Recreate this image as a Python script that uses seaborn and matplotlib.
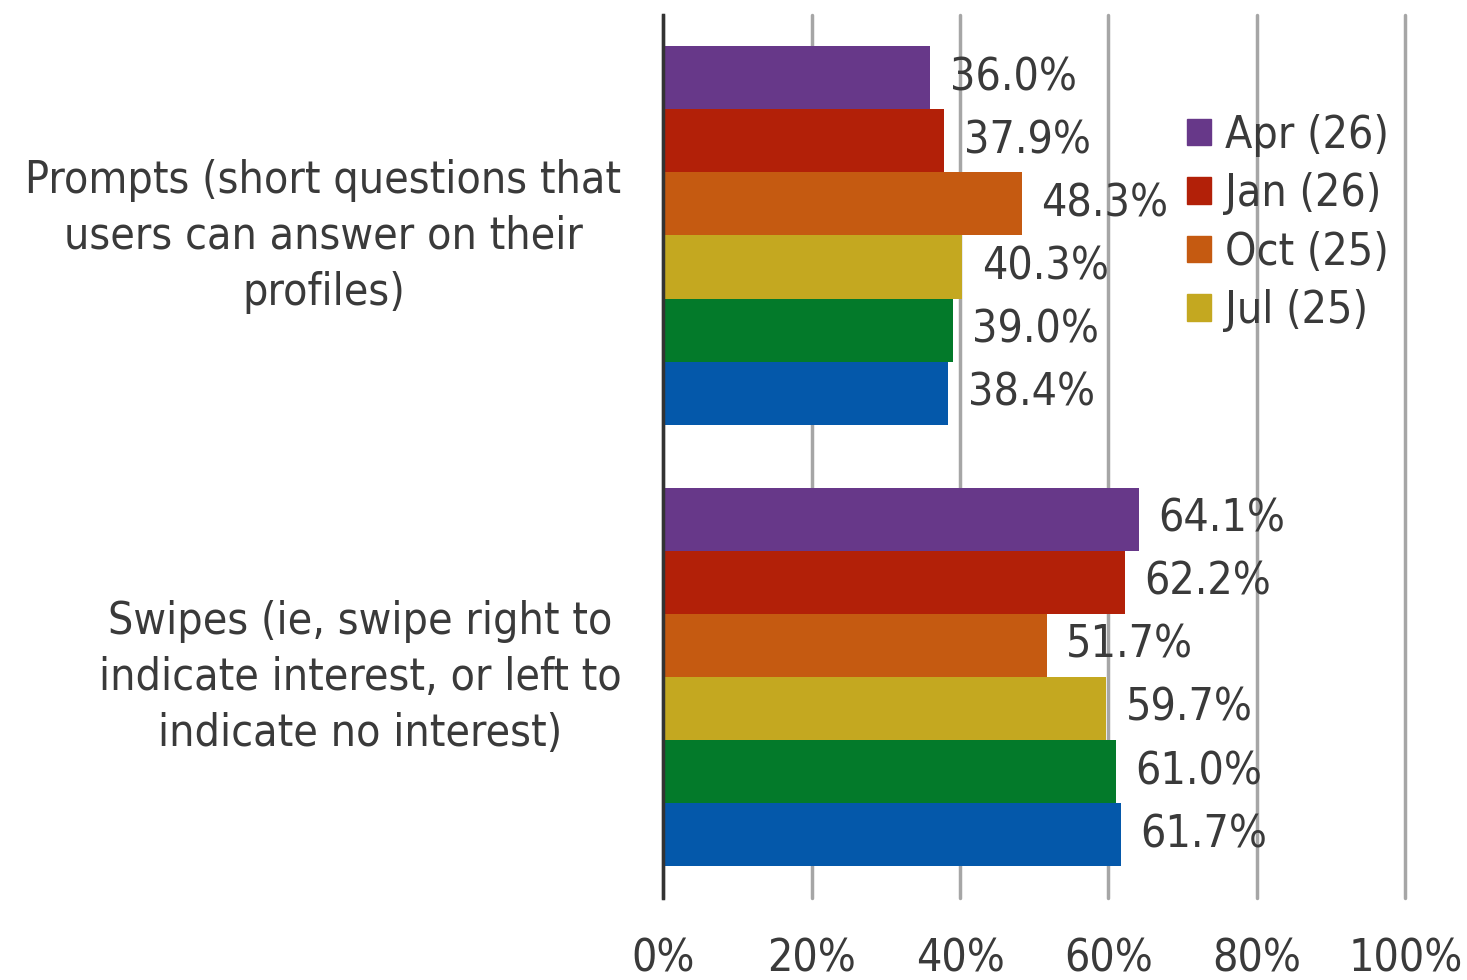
import matplotlib
matplotlib.use('Agg')
import matplotlib.pyplot as plt
import matplotlib.transforms as mtransforms
from matplotlib.patches import Patch
import seaborn as sns
import pandas as pd

# data
categories = ["Prompts (short questions that\nusers can answer on their\nprofiles)",
              "Swipes (ie, swipe right to\nindicate interest, or left to\nindicate no interest)"]
waves = ["Apr (26)", "Jan (26)", "Oct (25)", "Jul (25)", "Apr (25)", "Jan (25)"]
prompts = [36.0, 37.9, 48.3, 40.3, 39.0, 38.4]
swipes = [64.1, 62.2, 51.7, 59.7, 61.0, 61.7]
colors = ["#673889", "#B22008", "#C55A11", "#C4A820", "#037A2A", "#0458AA"]
legend_waves = waves[:4]

rows = []
for w, p, s in zip(waves, prompts, swipes):
    rows.append({'category': categories[0], 'wave': w, 'value': p})
    rows.append({'category': categories[1], 'wave': w, 'value': s})
df = pd.DataFrame(rows)

sns.set_style('white')
plt.rcParams['font.family'] = ['DejaVu Sans']
plt.rcParams['font.stretch'] = 'condensed'
txt = '#3A3A3A'
fs = 32

fig = plt.figure(figsize=(14.67, 9.8), dpi=100)
ax = fig.add_axes([0.452, 0.084, 0.506, 0.901])

sns.barplot(data=df, y='category', x='value', hue='wave', hue_order=waves,
            palette=colors, order=categories, orient='h', width=0.857,
            saturation=1, linewidth=0, legend=False, ax=ax)

for c in ax.containers:
    ax.bar_label(c, fmt='%.1f%%', padding=14, fontsize=fs, color=txt)

ax.set_xlim(0, 100)
ax.set_xticks([0, 20, 40, 60, 80, 100])
ax.set_xticklabels([f'{t}%' for t in [0, 20, 40, 60, 80, 100]])
ax.xaxis.grid(True, color='#A6A6A6', linewidth=2.5)
for gl in ax.get_xgridlines():
    gl.set_clip_on(False)
ax.set_axisbelow(True)
ax.set_xlabel('')
ax.set_ylabel('')
for s in ['top', 'right', 'bottom']:
    ax.spines[s].set_visible(False)
ax.spines['left'].set_color('#333333')
ax.spines['left'].set_linewidth(2.5)
ax.tick_params(axis='x', length=0, pad=29, labelsize=fs, labelcolor=txt)
ax.tick_params(axis='y', length=0, pad=30, labelsize=fs, labelcolor=txt)
shift = mtransforms.ScaledTranslation(0, 0.1, fig.dpi_scale_trans)
for lab in ax.get_yticklabels():
    lab.set_multialignment('center')
    lab.set_linespacing(1.38)
    lab.set_transform(lab.get_transform() + shift)

handles = [Patch(color=c) for c in colors[:4]]
fig.legend(handles, legend_waves, loc='upper left', bbox_to_anchor=(0.809, 0.884),
           frameon=False, fontsize=fs, labelcolor=txt, handlelength=0.55,
           handleheight=0.55, handletextpad=0.3, labelspacing=0.35,
           borderaxespad=0, borderpad=0)

fig.savefig('out.png', dpi=100)
